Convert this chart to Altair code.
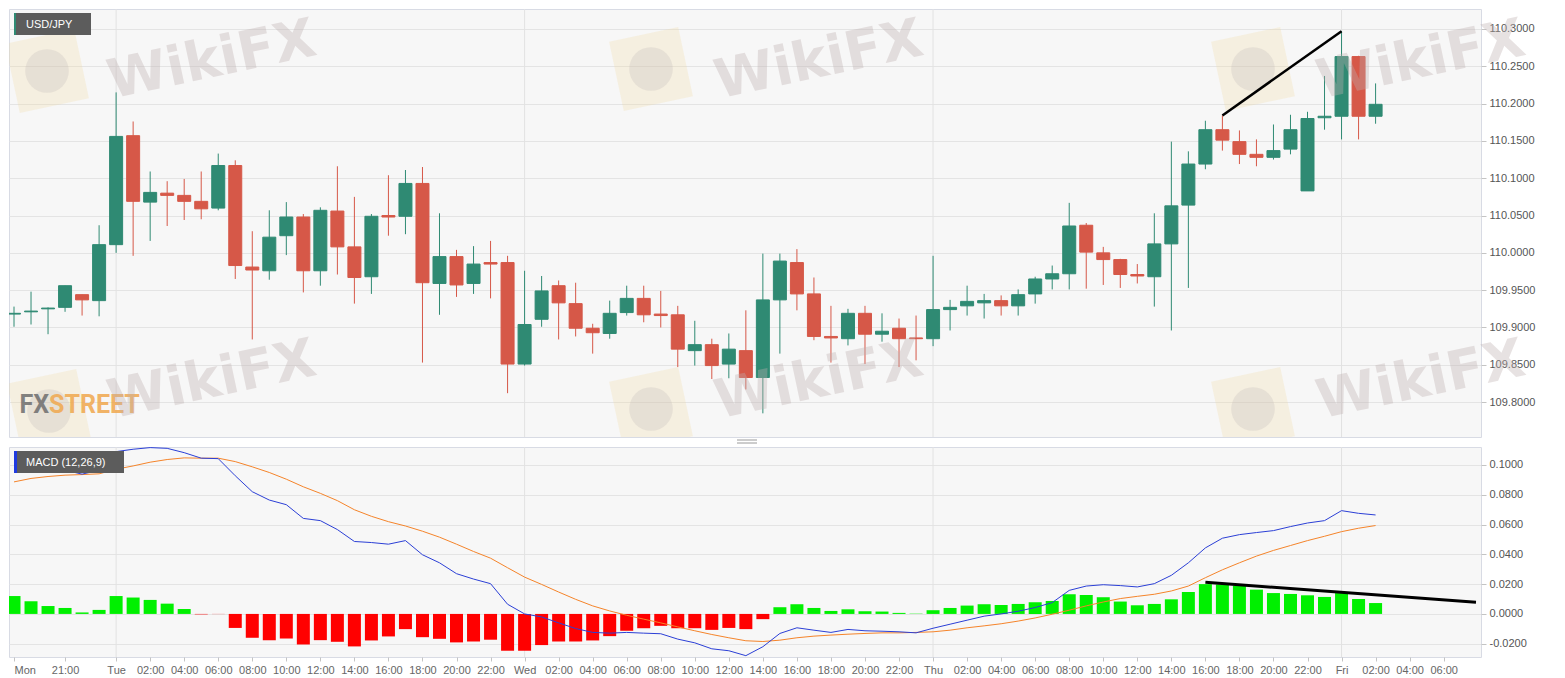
import json
import pandas as pd
import altair as alt

# USD/JPY hourly candles, index 0 = Mon 18:00 ... index 80 = Fri 02:00
opens = [109.918, 109.921, 109.925, 109.927, 109.944, 109.936, 110.011, 110.157, 110.068, 110.080,
         110.077, 110.069, 110.060, 110.117, 109.981, 109.976, 110.023, 110.048, 109.976, 110.056,
         110.008, 109.968, 110.050, 110.049, 110.093, 109.959, 109.995, 109.959, 109.987, 109.987,
         109.851, 109.911, 109.956, 109.932, 109.899, 109.892, 109.920, 109.939, 109.918, 109.917,
         109.869, 109.877, 109.851, 109.869, 109.833, 109.937, 109.987, 109.945, 109.888, 109.885,
         109.919, 109.891, 109.899, 109.886, 109.885, 109.924, 109.929, 109.933, 109.936, 109.929,
         109.945, 109.965, 109.972, 110.037, 110.000, 109.991, 109.971, 109.968, 110.012, 110.064,
         110.119, 110.165, 110.149, 110.132, 110.128, 110.139, 110.083, 110.181, 110.183, 110.263,
         110.183]
highs = [109.928, 109.948, 109.927, 109.956, 109.944, 110.037, 110.215, 110.176, 110.109, 110.096,
         110.099, 110.109, 110.133, 110.124, 110.029, 110.057, 110.068, 110.052, 110.061, 110.116,
         110.075, 110.052, 110.104, 110.111, 110.115, 110.053, 110.004, 110.009, 110.016, 109.996,
         109.976, 109.969, 109.963, 109.960, 109.905, 109.936, 109.956, 109.956, 109.949, 109.929,
         109.909, 109.885, 109.892, 109.923, 109.999, 109.999, 110.005, 109.967, 109.929, 109.925,
         109.929, 109.919, 109.912, 109.916, 109.996, 109.937, 109.956, 109.945, 109.943, 109.951,
         109.968, 109.983, 110.067, 110.040, 110.008, 109.992, 109.985, 110.053, 110.149, 110.136,
         110.177, 110.184, 110.164, 110.152, 110.172, 110.185, 110.189, 110.237, 110.297, 110.264,
         110.227]
lows = [109.901, 109.904, 109.891, 109.921, 109.916, 109.915, 110.000, 109.996, 110.016, 110.036,
        110.044, 110.045, 110.057, 109.965, 109.884, 109.964, 109.997, 109.947, 109.956, 109.971,
        109.932, 109.945, 110.023, 110.025, 109.853, 109.917, 109.941, 109.945, 109.939, 109.812,
        109.849, 109.901, 109.884, 109.888, 109.865, 109.885, 109.916, 109.907, 109.900, 109.847,
        109.849, 109.831, 109.832, 109.817, 109.785, 109.865, 109.923, 109.883, 109.853, 109.876,
        109.851, 109.881, 109.847, 109.856, 109.875, 109.896, 109.916, 109.912, 109.916, 109.916,
        109.932, 109.951, 109.951, 109.952, 109.957, 109.953, 109.959, 109.928, 109.896, 109.953,
        110.112, 110.137, 110.119, 110.116, 110.125, 110.132, 110.083, 110.165, 110.152, 110.152,
        110.173]
closes = [109.919, 109.922, 109.926, 109.956, 109.937, 110.011, 110.156, 110.069, 110.081, 110.077,
          110.069, 110.059, 110.117, 109.983, 109.977, 110.021, 110.048, 109.976, 110.057, 110.008,
          109.967, 110.049, 110.048, 110.093, 109.960, 109.995, 109.957, 109.985, 109.985, 109.851,
          109.904, 109.949, 109.933, 109.899, 109.893, 109.919, 109.939, 109.917, 109.916, 109.871,
          109.877, 109.849, 109.871, 109.833, 109.937, 109.989, 109.945, 109.888, 109.886, 109.919,
          109.891, 109.895, 109.885, 109.885, 109.924, 109.927, 109.935, 109.936, 109.929, 109.944,
          109.965, 109.972, 110.036, 110.001, 109.991, 109.971, 109.969, 110.012, 110.063, 110.119,
          110.165, 110.151, 110.132, 110.128, 110.137, 110.165, 110.180, 110.183, 110.263, 110.183,
          110.199]

# MACD (12,26,9)
macd = [0.1004, 0.0982, 0.0971, 0.0964, 0.0938, 0.0964, 0.1089, 0.1105, 0.1116, 0.1111,
        0.1082, 0.1045, 0.1042, 0.0927, 0.0820, 0.0764, 0.0733, 0.0641, 0.0626, 0.0566,
        0.0486, 0.0479, 0.0468, 0.0492, 0.0397, 0.0343, 0.0270, 0.0234, 0.0203, 0.0065,
        0.0000, -0.0020, -0.0060, -0.0098, -0.0124, -0.0129, -0.0124, -0.0129, -0.0133, -0.0169,
        -0.0194, -0.0234, -0.0247, -0.0280, -0.0220, -0.0131, -0.0093, -0.0109, -0.0124, -0.0104,
        -0.0113, -0.0116, -0.0120, -0.0127, -0.0096, -0.0069, -0.0042, -0.0015, 0.0000, 0.0018,
        0.0043, 0.0076, 0.0158, 0.0187, 0.0196, 0.0190, 0.0181, 0.0203, 0.0259, 0.0343,
        0.0443, 0.0508, 0.0532, 0.0546, 0.0559, 0.0586, 0.0610, 0.0626, 0.0693, 0.0675,
        0.0664]
signal = [0.0886, 0.0909, 0.0922, 0.0931, 0.0935, 0.0940, 0.0971, 0.0993, 0.1018, 0.1036,
          0.1047, 0.1045, 0.1045, 0.1022, 0.0987, 0.0949, 0.0904, 0.0853, 0.0809, 0.0760,
          0.0699, 0.0655, 0.0619, 0.0590, 0.0555, 0.0515, 0.0468, 0.0419, 0.0374, 0.0310,
          0.0247, 0.0198, 0.0147, 0.0098, 0.0054, 0.0020, -0.0009, -0.0035, -0.0060, -0.0087,
          -0.0113, -0.0138, -0.0160, -0.0180, -0.0185, -0.0176, -0.0160, -0.0149, -0.0142, -0.0136,
          -0.0131, -0.0127, -0.0127, -0.0124, -0.0120, -0.0109, -0.0093, -0.0080, -0.0066, -0.0048,
          -0.0027, -0.0002, 0.0025, 0.0054, 0.0080, 0.0103, 0.0118, 0.0132, 0.0154, 0.0187,
          0.0243, 0.0296, 0.0343, 0.0388, 0.0426, 0.0459, 0.0492, 0.0521, 0.0552, 0.0575,
          0.0593]
hist = [0.0120, 0.0085, 0.0053, 0.0040, 0.0010, 0.0027, 0.0120, 0.0110, 0.0094, 0.0069,
        0.0033, -0.0003, -0.0001, -0.0094, -0.0160, -0.0176, -0.0165, -0.0205, -0.0176, -0.0187,
        -0.0218, -0.0178, -0.0151, -0.0102, -0.0156, -0.0167, -0.0191, -0.0185, -0.0173, -0.0247,
        -0.0247, -0.0209, -0.0185, -0.0185, -0.0178, -0.0149, -0.0113, -0.0096, -0.0080, -0.0096,
        -0.0096, -0.0107, -0.0094, -0.0102, -0.0035, 0.0045, 0.0065, 0.0040, 0.0020, 0.0031,
        0.0018, 0.0016, 0.0007, 0.0002, 0.0025, 0.0040, 0.0056, 0.0065, 0.0060, 0.0067,
        0.0078, 0.0087, 0.0132, 0.0127, 0.0112, 0.0083, 0.0058, 0.0067, 0.0098, 0.0147,
        0.0200, 0.0198, 0.0190, 0.0163, 0.0140, 0.0134, 0.0125, 0.0114, 0.0140, 0.0100,
        0.0073]

# axis ticks
price_ticks = [109.80, 109.85, 109.90, 109.95, 110.00, 110.05, 110.10, 110.15, 110.20, 110.25, 110.30]
macd_ticks = [-0.02, 0.0, 0.02, 0.04, 0.06, 0.08, 0.10]
tick_hours = [0, 3] + list(range(6, 85, 2))
tick_labels = ["Mon", "21:00",
               "Tue", "02:00", "04:00", "06:00", "08:00", "10:00", "12:00", "14:00", "16:00", "18:00", "20:00", "22:00",
               "Wed", "02:00", "04:00", "06:00", "08:00", "10:00", "12:00", "14:00", "16:00", "18:00", "20:00", "22:00",
               "Thu", "02:00", "04:00", "06:00", "08:00", "10:00", "12:00", "14:00", "16:00", "18:00", "20:00", "22:00",
               "Fri", "02:00", "04:00", "06:00"]
day_hours = [6, 30, 54, 78]

# hand drawn trend lines (hour index, value)
price_line_hours = [71, 78]
price_line_values = [110.184, 110.297]
hist_line_hours = [70, 85.9]
hist_line_values = [0.0212, 0.0078]

FONT = "Liberation Sans"
W = 1472
H_TOP = 428
H_BOT = 210
UP, DOWN = "#2f8a73", "#d65848"

hours = list(range(len(opens)))
candles = pd.DataFrame({"hour": hours, "open": opens, "high": highs, "low": lows, "close": closes})
osc = pd.DataFrame({"hour": hours, "macd": macd, "signal": signal, "hist": hist})

xs = alt.Scale(domain=[0, 85.9], nice=False, zero=False)
ys_top = alt.Scale(domain=[109.7533, 110.3267], nice=False, zero=False)
ys_bot = alt.Scale(domain=[-0.0289, 0.112], nice=False, zero=False)
candle_color = alt.condition("datum.close >= datum.open", alt.value(UP), alt.value(DOWN))
hist_color = alt.condition("datum.hist >= 0", alt.value("#00f000"), alt.value("#ff0000"))

lbl = [""] * 86
for h, t in zip(tick_hours, tick_labels):
    lbl[h] = t
x_label_expr = json.dumps(lbl) + "[datum.value]"

top_y_axis = alt.Axis(orient="right", values=price_ticks, format=".4f", title=None, grid=True,
                      gridColor="#e4e4e4", domain=False, tickColor="#c4c4c4", tickSize=5,
                      labelColor="#555555", labelFontSize=11, labelPadding=3)
bot_y_axis = alt.Axis(orient="right", values=macd_ticks, title=None, grid=True,
                      labelExpr="replace(format(datum.value, '.4f'), '\u2212', '-')",
                      gridColor="#e4e4e4", domain=False, tickColor="#c4c4c4", tickSize=5,
                      labelColor="#555555", labelFontSize=11, labelPadding=3)
bot_x_axis = alt.Axis(values=tick_hours, labelExpr=x_label_expr, title=None, grid=False,
                      domain=False, tickColor="#c4c4c4", tickSize=4, labelColor="#666666",
                      labelFontSize=11, labelPadding=3, labelOverlap=False,
                      labelAlign={"condition": {"test": "datum.value == 0", "value": "left"}, "value": "center"})

one = pd.DataFrame({"a": [0]})


def label_box(text, x2, stripe, stripe_w):
    base = alt.Chart(pd.DataFrame({"t": [text]}))
    box = base.mark_rect(color="#5c5c5c").encode(
        x=alt.value(5), x2=alt.value(x2), y=alt.value(4), y2=alt.value(26))
    bar = base.mark_rect(color=stripe).encode(
        x=alt.value(5), x2=alt.value(5 + stripe_w), y=alt.value(4), y2=alt.value(26))
    txt = base.mark_text(align="left", baseline="middle", color="white", fontSize=11, font=FONT).encode(
        x=alt.value(17), y=alt.value(15.5), text="t:N")
    return [box, bar, txt]


# watermarks (pixel positions inside the price panel)
wm_text_pos = [(203, 52), (810, 52), (1412, 52), (203, 372), (810, 372), (1412, 372)]
wm_logo_pos = [(38, 62), (642, 60), (1244, 60), (40, 402), (642, 400), (1244, 400)]

logos = []
for lx, ly in wm_logo_pos:
    logos.append(alt.Chart(one).mark_square(size=5000, angle=348, color="#f0d890", opacity=0.22, clip=True)
                 .encode(x=alt.value(lx), y=alt.value(ly)))
    logos.append(alt.Chart(one).mark_circle(size=1900, color="#bdb3b3", opacity=0.25, clip=True)
                 .encode(x=alt.value(lx), y=alt.value(ly)))
wm_texts = []
for tx, ty in wm_text_pos:
    wm_texts.append(alt.Chart(one).mark_text(text="WikiFX", angle=348, fontSize=54, fontWeight="bold",
                                             font="DejaVu Sans", color="#bfb0b0", opacity=0.36,
                                             align="center", baseline="middle")
                    .encode(x=alt.value(tx), y=alt.value(ty)))

day_grid_top = alt.Chart(pd.DataFrame({"hour": day_hours})).mark_rule(color="#e2e2e2", strokeWidth=1).encode(
    x=alt.X("hour:Q", scale=xs, axis=None))

wicks = alt.Chart(candles).mark_rule(strokeWidth=1, clip=True).encode(
    x=alt.X("hour:Q", scale=xs, axis=None),
    y=alt.Y("low:Q", scale=ys_top, axis=top_y_axis),
    y2="high:Q",
    color=candle_color)

bodies = alt.Chart(candles).mark_bar(size=13, clip=True, strokeWidth=1).encode(
    x=alt.X("hour:Q", scale=xs, axis=None),
    y=alt.Y("open:Q", scale=ys_top, axis=top_y_axis),
    y2="close:Q",
    color=candle_color,
    stroke=candle_color)

price_trend = alt.Chart(pd.DataFrame({"hour": price_line_hours, "v": price_line_values})).mark_line(
    color="black", strokeWidth=2.5).encode(
    x=alt.X("hour:Q", scale=xs, axis=None),
    y=alt.Y("v:Q", scale=ys_top, axis=top_y_axis))

fx = alt.Chart(one).mark_text(text="FX", align="right", baseline="middle", fontSize=25, fontWeight="bold",
                              font="Roboto", color="#6e6e6e", opacity=0.85).encode(
    x=alt.value(40), y=alt.value(396))
street = alt.Chart(one).mark_text(text="STREET", align="left", baseline="middle", fontSize=25, fontWeight="bold",
                                  font="Roboto", color="#f0a84e", opacity=0.85).encode(
    x=alt.value(40), y=alt.value(396))

top = alt.layer(day_grid_top, *logos, wicks, bodies, price_trend, fx, street, *wm_texts,
                *label_box("USD/JPY", 82, UP, 2)).properties(width=W, height=H_TOP)

# MACD panel
day_grid_bot = alt.Chart(pd.DataFrame({"hour": day_hours})).mark_rule(color="#e2e2e2", strokeWidth=1).encode(
    x=alt.X("hour:Q", scale=xs, axis=bot_x_axis))

bars = alt.Chart(osc).mark_bar(size=13, clip=True).encode(
    x=alt.X("hour:Q", scale=xs, axis=bot_x_axis),
    y=alt.Y("hist:Q", scale=ys_bot, axis=bot_y_axis),
    y2=alt.datum(0),
    color=hist_color)

macd_line = alt.Chart(osc).mark_line(color="#2b3fd6", strokeWidth=1, clip=True).encode(
    x=alt.X("hour:Q", scale=xs, axis=bot_x_axis),
    y=alt.Y("macd:Q", scale=ys_bot, axis=bot_y_axis))

signal_line = alt.Chart(osc).mark_line(color="#f5842a", strokeWidth=1, clip=True).encode(
    x=alt.X("hour:Q", scale=xs, axis=bot_x_axis),
    y=alt.Y("signal:Q", scale=ys_bot, axis=bot_y_axis))

hist_trend = alt.Chart(pd.DataFrame({"hour": hist_line_hours, "v": hist_line_values})).mark_line(
    color="black", strokeWidth=3).encode(
    x=alt.X("hour:Q", scale=xs, axis=bot_x_axis),
    y=alt.Y("v:Q", scale=ys_bot, axis=bot_y_axis))

handle = [alt.Chart(one).mark_rule(color="#9a9a9a", strokeWidth=1).encode(
    x=alt.value(728), x2=alt.value(748), y=alt.value(yy)) for yy in (-7, -4)]

bottom = alt.layer(day_grid_bot, bars, signal_line, macd_line, hist_trend, *handle,
                   *label_box("MACD (12,26,9)", 115, "#1f3ae0", 3)).properties(width=W, height=H_BOT)

chart = alt.vconcat(top, bottom, spacing=10, bounds="flush").properties(
    padding={"left": 0, "top": 0, "right": 0, "bottom": 0},
    background="white"
).configure_view(
    fill="#f7f7f7", stroke="#d8dbe4", strokeWidth=1
).configure_axis(
    labelFont=FONT
)

chart.save("out.html", embed_options={"renderer": "svg", "actions": False})
